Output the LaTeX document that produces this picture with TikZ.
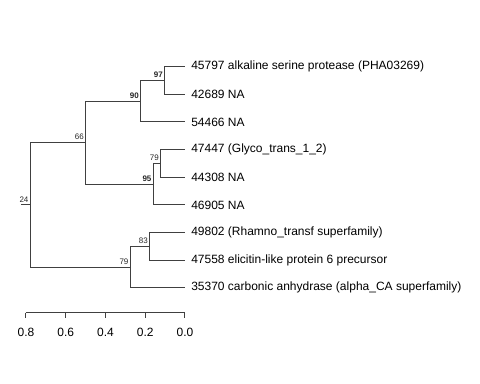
\documentclass[tikz,border=0pt]{standalone}
\usepackage{fontspec}
\setmainfont{Liberation Sans}
\usetikzlibrary{positioning}
\tikzset{branch/.style={draw=black!75,line width=0.75pt}}
\tikzset{tiplab/.style={anchor=west,inner sep=0pt,xshift=4.5pt,font=\fontsize{9}{10}\selectfont}}
\tikzset{bootlab/.style={anchor=south east,inner sep=0pt,xshift=-1.5pt,yshift=1.8pt,text=black!85,font=\fontsize{6}{7}\selectfont}}
\tikzset{scalelab/.style={anchor=north,inner sep=0pt,yshift=-11pt,font=\fontsize{9}{10}\selectfont}}

\begin{document}
\begin{tikzpicture}[x=0.75pt,y=-0.75pt]
			\useasboundingbox (0,0) rectangle (480,384);
			
			\coordinate (t45797) at (185,66.7);
			\coordinate (t42689) at (185,94.3);
			\coordinate (t54466) at (185,122);
			\coordinate (t47447) at (185,149.6);
			\coordinate (t44308) at (185,177.3);
			\coordinate (t46905) at (185,204.9);
			\coordinate (t49802) at (185,232.6);
			\coordinate (t47558) at (185,260.2);
			\coordinate (t35370) at (185,287.9);
			
			\coordinate (n97) at (165,80.5);
			\coordinate (n90) at (141,101.25);
			\coordinate (n79a) at (161,163.45);
			\coordinate (n95) at (153.7,184.2);
			\coordinate (n66) at (86,142.7);
			\coordinate (n83) at (150,246.4);
			\coordinate (n79b) at (130.7,267.15);
			\coordinate (root) at (30.7,204.9);
			\coordinate (rootedge) at (21,204.9);
			
			\draw[branch] (rootedge) -- (root);
			\draw[branch] (root) |- (n66);
			\draw[branch] (root) |- (n79b);
			\draw[branch] (n66) |- (n90);
			\draw[branch] (n66) |- (n95);
			\draw[branch] (n90) |- (n97);
			\draw[branch] (n90) |- (t54466);
			\draw[branch] (n97) |- (t45797);
			\draw[branch] (n97) |- (t42689);
			\draw[branch] (n95) |- (n79a);
			\draw[branch] (n95) |- (t46905);
			\draw[branch] (n79a) |- (t47447);
			\draw[branch] (n79a) |- (t44308);
			\draw[branch] (n79b) |- (n83);
			\draw[branch] (n79b) |- (t35370);
			\draw[branch] (n83) |- (t49802);
			\draw[branch] (n83) |- (t47558);
			
			\node[tiplab] (l45797) at (t45797) {45797 alkaline serine protease (PHA03269)};
			\node[tiplab] (l42689) at (t42689) {42689 NA};
			\node[tiplab] (l54466) at (t54466) {54466 NA};
			\node[tiplab] (l47447) at (t47447) {47447 (Glyco\_trans\_1\_2)};
			\node[tiplab] (l44308) at (t44308) {44308 NA};
			\node[tiplab] (l46905) at (t46905) {46905 NA};
			\node[tiplab] (l49802) at (t49802) {49802 (Rhamno\_transf superfamily)};
			\node[tiplab] (l47558) at (t47558) {47558 elicitin-like protein 6 precursor};
			\node[tiplab] (l35370) at (t35370) {35370 carbonic anhydrase (alpha\_CA superfamily)};
			
			\node[bootlab] (b24) at (root) {24};
			\node[bootlab] (b66) at (n66) {66};
			\node[bootlab] (b90) at (n90) {\textbf{90}};
			\node[bootlab] (b97) at (n97) {\textbf{97}};
			\node[bootlab] (b95) at (n95) {\textbf{95}};
			\node[bootlab] (b79a) at (n79a) {79};
			\node[bootlab] (b83) at (n83) {83};
			\node[bootlab] (b79b) at (n79b) {79};
			
			\coordinate (s8) at (26,312.7);
			\coordinate (s0) at (185,312.7);
			\draw[branch] (s8) -- (s0);
			\foreach \x/\v in {26/0.8,65.75/0.6,105.5/0.4,145.25/0.2,185/0.0}{
				\draw[branch] (\x,312.7) -- ++(0,5.6);
				\node[scalelab] at (\x,312.7) {\v};
			}
		\end{tikzpicture}
\end{document}
